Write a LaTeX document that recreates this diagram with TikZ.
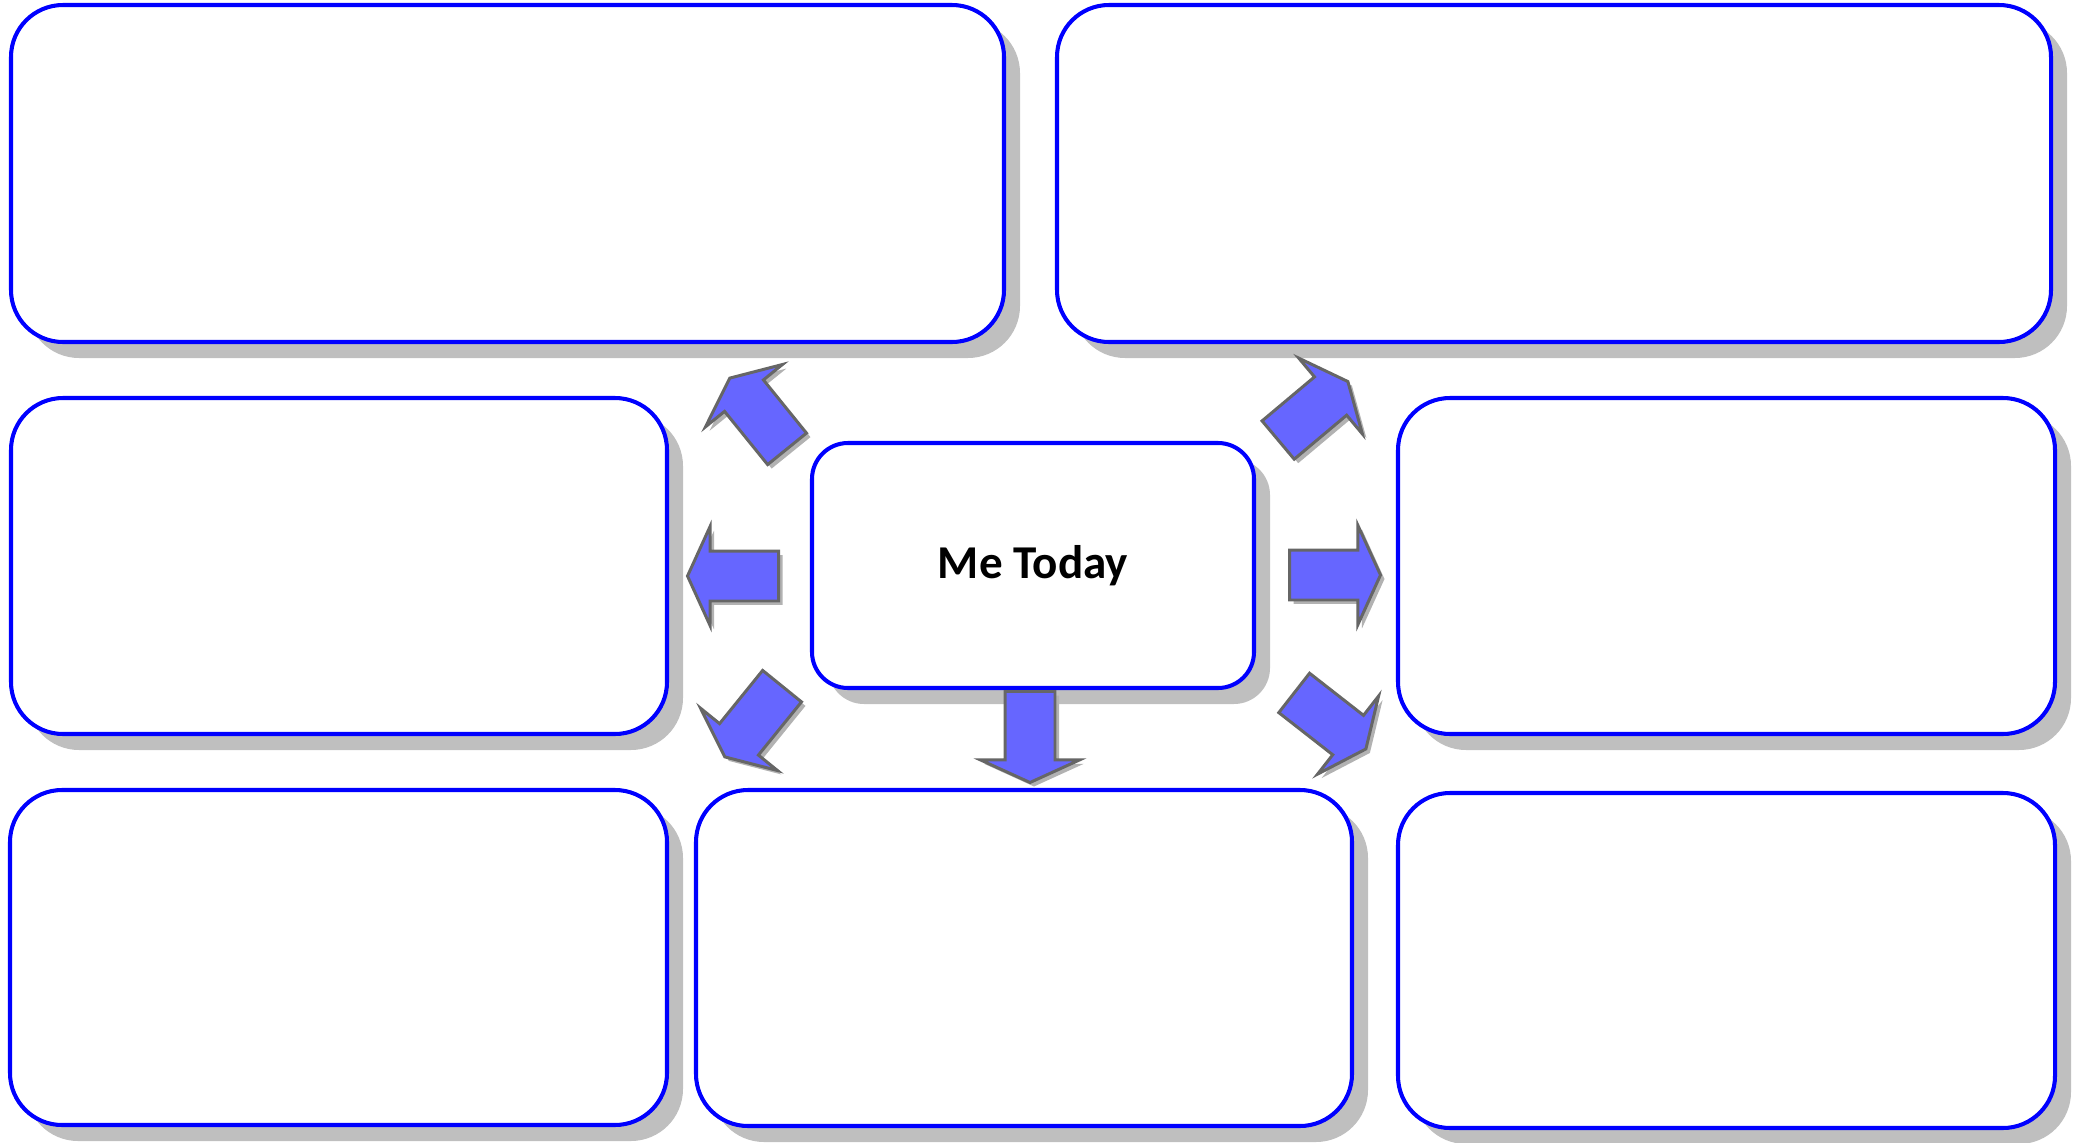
\documentclass[tikz,border=0pt]{standalone}
\usepackage{fontspec}
\setmainfont{Carlito}
\usetikzlibrary{shapes.arrows,shadows}

\tikzset{
  panel/.style={draw=blue, line width=1.15pt, fill=white, rounded corners=0.52cm,
    inner sep=0pt, drop shadow={shadow xshift=0.16cm, shadow yshift=-0.16cm, fill=black!25, opacity=1}},
  fatarrow/.style={single arrow, draw=black!60, line width=0.85pt, fill=blue!60,
    minimum height=0.91cm, inner xsep=0pt, inner ysep=0.235cm, single arrow head extend=0.245cm,
    single arrow tip angle=131, anchor=tail,
    drop shadow={shadow xshift=0.04cm, shadow yshift=-0.04cm, fill=black!30, opacity=1}}
}

\begin{document}
\begin{tikzpicture}
\useasboundingbox (0,0) rectangle (20.78,-11.43);

% outer panels
\node[panel, minimum width=9.93cm, minimum height=3.37cm] (topleft) at (5.075,-1.735) {};
\node[panel, minimum width=9.94cm, minimum height=3.37cm] (topright) at (15.54,-1.735) {};
\node[panel, minimum width=6.56cm, minimum height=3.36cm] (midleft) at (3.39,-5.66) {};
\node[panel, minimum width=6.57cm, minimum height=3.36cm] (midright) at (17.265,-5.66) {};
\node[panel, minimum width=6.57cm, minimum height=3.35cm] (botleft) at (3.385,-9.575) {};
\node[panel, minimum width=6.56cm, minimum height=3.36cm] (botmid) at (10.24,-9.58) {};
\node[panel, minimum width=6.57cm, minimum height=3.35cm] (botright) at (17.265,-9.605) {};

% centre
\node[panel, rounded corners=0.36cm, minimum width=4.42cm, minimum height=2.45cm,
  font=\fontsize{13.4}{15}\selectfont\bfseries] (me) at (10.33,-5.655) {Me Today};

% arrows out of the centre
\node[fatarrow, rotate=129] (arrNW) at (7.88,-4.50) {};
\node[fatarrow, rotate=180] (arrW) at (7.80,-5.76) {};
\node[fatarrow, rotate=231] (arrSW) at (7.83,-6.85) {};
\node[fatarrow, rotate=-90] (arrS) at (10.30,-6.90) {};
\node[fatarrow, rotate=-38] (arrSE) at (12.93,-6.92) {};
\node[fatarrow] (arrE) at (12.88,-5.75) {};
\node[fatarrow, rotate=40] (arrNE) at (12.77,-4.41) {};
\end{tikzpicture}
\end{document}
